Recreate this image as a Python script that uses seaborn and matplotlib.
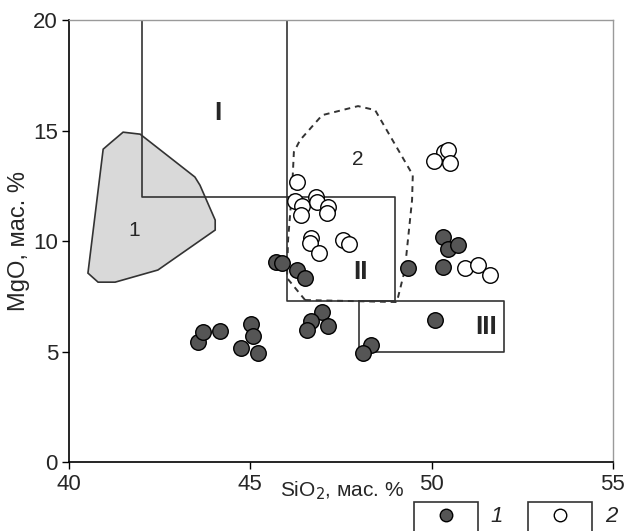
import matplotlib
matplotlib.use("Agg")
import matplotlib.pyplot as plt
from matplotlib.patches import Polygon, Rectangle
from matplotlib.lines import Line2D
import seaborn as sns
import pandas as pd

# Group 1: filled symbols (SiO2, MgO, wt. %)
sio2_g1 = [43.56, 43.69, 44.16, 45.02, 45.07, 44.74, 45.21, 46.98, 46.67, 46.56,
           47.14, 45.71, 45.87, 46.29, 46.51, 50.09, 48.33, 48.11, 49.35, 50.31,
           50.45, 50.73, 50.31]
mgo_g1 = [5.43, 5.88, 5.93, 6.24, 5.70, 5.16, 4.93, 6.79, 6.38, 5.97,
          6.15, 9.05, 9.00, 8.69, 8.33, 6.43, 5.29, 4.93, 8.78, 10.18,
          9.64, 9.82, 8.82]

# Group 2: open symbols
sio2_g2 = [46.29, 46.23, 46.42, 46.40, 46.81, 46.84, 47.14, 47.11, 46.67, 46.64,
           46.89, 47.55, 47.72, 50.34, 50.45, 50.06, 50.50, 50.92, 51.28, 51.61]
mgo_g2 = [12.67, 11.81, 11.58, 11.18, 11.99, 11.76, 11.54, 11.27, 10.14, 9.91,
          9.46, 10.05, 9.86, 14.03, 14.12, 13.62, 13.53, 8.78, 8.91, 8.46]

# Field 1 outline (shaded)
field1_x = [40.94, 41.13, 41.49, 41.96, 43.47, 43.61, 44.03, 44.03, 42.45, 41.27, 40.80, 40.52]
field1_y = [14.16, 14.43, 14.93, 14.84, 12.90, 12.53, 10.95, 10.50, 8.69, 8.14, 8.14, 8.55]

# Field 2 outline (dashed)
field2_x = [46.51, 46.01, 46.04, 46.15, 46.20, 46.37, 46.98, 47.97, 48.44, 49.48, 49.46, 49.26, 49.04]
field2_y = [7.33, 8.33, 10.05, 12.31, 14.03, 14.57, 15.70, 16.11, 15.93, 12.99, 11.86, 8.69, 7.24]

# Rectangular fields I, II, III: (x0, x1, y0, y1)
field_I = (42, 46, 12, 20)
field_II = (46, 49, 7.3, 12)
field_III = (48, 52, 5, 7.3)

x_ticks = [40, 45, 50, 55]
y_ticks = [0, 5, 10, 15, 20]

sns.set_style("ticks")
plt.rcParams["font.family"] = ["Liberation Sans", "DejaVu Sans"]

fig = plt.figure(figsize=(6.28, 5.31), dpi=100)
ax = fig.add_axes([0.110, 0.130, 0.866, 0.832])

line_col = "#333333"

ax.add_patch(Polygon(list(zip(field1_x, field1_y)), closed=True,
                     facecolor="#d9d9d9", edgecolor=line_col, lw=1.2, zorder=1))
ax.add_patch(Polygon(list(zip(field2_x, field2_y)), closed=True, fill=False,
                     edgecolor=line_col, lw=1.4, ls=(0, (3, 2.5)), zorder=1))

x0, x1, y0, y1 = field_I
ax.plot([x0, x0, x1, x1], [y1, y0, y0, y1], color=line_col, lw=1.2, zorder=2)
x0, x1, y0, y1 = field_II
ax.plot([x0, x0, x1, x1, x0], [y1, y0, y0, y1, y1], color=line_col, lw=1.2, zorder=2)
x0, x1, y0, y1 = field_III
ax.plot([x0, x0, x1, x1, x0], [y1, y0, y0, y1, y1], color=line_col, lw=1.2, zorder=2)

df1 = pd.DataFrame({"SiO2": sio2_g1, "MgO": mgo_g1})
df2 = pd.DataFrame({"SiO2": sio2_g2, "MgO": mgo_g2})
sns.scatterplot(data=df2, x="SiO2", y="MgO", ax=ax, s=125, color="white",
                edgecolor="black", linewidth=1.0, zorder=3, legend=False)
sns.scatterplot(data=df1, x="SiO2", y="MgO", ax=ax, s=125, color="#555555",
                edgecolor="black", linewidth=1.0, zorder=4, legend=False)

ax.text(44.1, 15.8, "I", fontsize=19, fontweight="bold", ha="center", va="center")
ax.text(48.05, 8.6, "II", fontsize=19, fontweight="bold", ha="center", va="center")
ax.text(51.5, 6.1, "III", fontsize=19, fontweight="bold", ha="center", va="center")
ax.text(41.8, 10.5, "1", fontsize=15, ha="center", va="center")
ax.text(47.95, 13.7, "2", fontsize=15, ha="center", va="center")

ax.set_xlim(40, 55)
ax.set_ylim(0, 20)
ax.set_xticks(x_ticks)
ax.set_yticks(y_ticks)
ax.tick_params(labelsize=16, length=5, width=1, color="black")
ax.tick_params(axis="x", pad=4)
ax.tick_params(axis="y", pad=3)
for side in ("left", "bottom"):
    ax.spines[side].set_color("black")
    ax.spines[side].set_linewidth(1.2)
for side in ("top", "right"):
    ax.spines[side].set_visible(True)
    ax.spines[side].set_color("#9a9a9a")
    ax.spines[side].set_linewidth(1.0)

ax.set_xlabel("")
ax.set_ylabel("MgO, мас. %", fontsize=17, labelpad=2)
fig.text(342 / 628, 1 - 491 / 531, "SiO$_2$, мас. %", fontsize=15,
         ha="center", va="center")

# Legend: each symbol in its own box, label to the right
for left, face, label in ((414, "#555555", "1"), (528, "white", "2")):
    fig.add_artist(Rectangle((left / 628, -0.05), 64 / 628, 0.05 + (531 - 502) / 531,
                             transform=fig.transFigure, fill=False,
                             edgecolor=line_col, lw=1.2))
    fig.add_artist(Line2D([(left + 32) / 628], [1 - 515 / 531], marker="o",
                          markersize=9, markerfacecolor=face, markeredgecolor="black",
                          markeredgewidth=1.0, linestyle="none",
                          transform=fig.transFigure))
    fig.text((left + 83) / 628, 1 - 516 / 531, label, fontsize=16,
             style="italic", ha="center", va="center")

fig.savefig("out.png", dpi=100)
